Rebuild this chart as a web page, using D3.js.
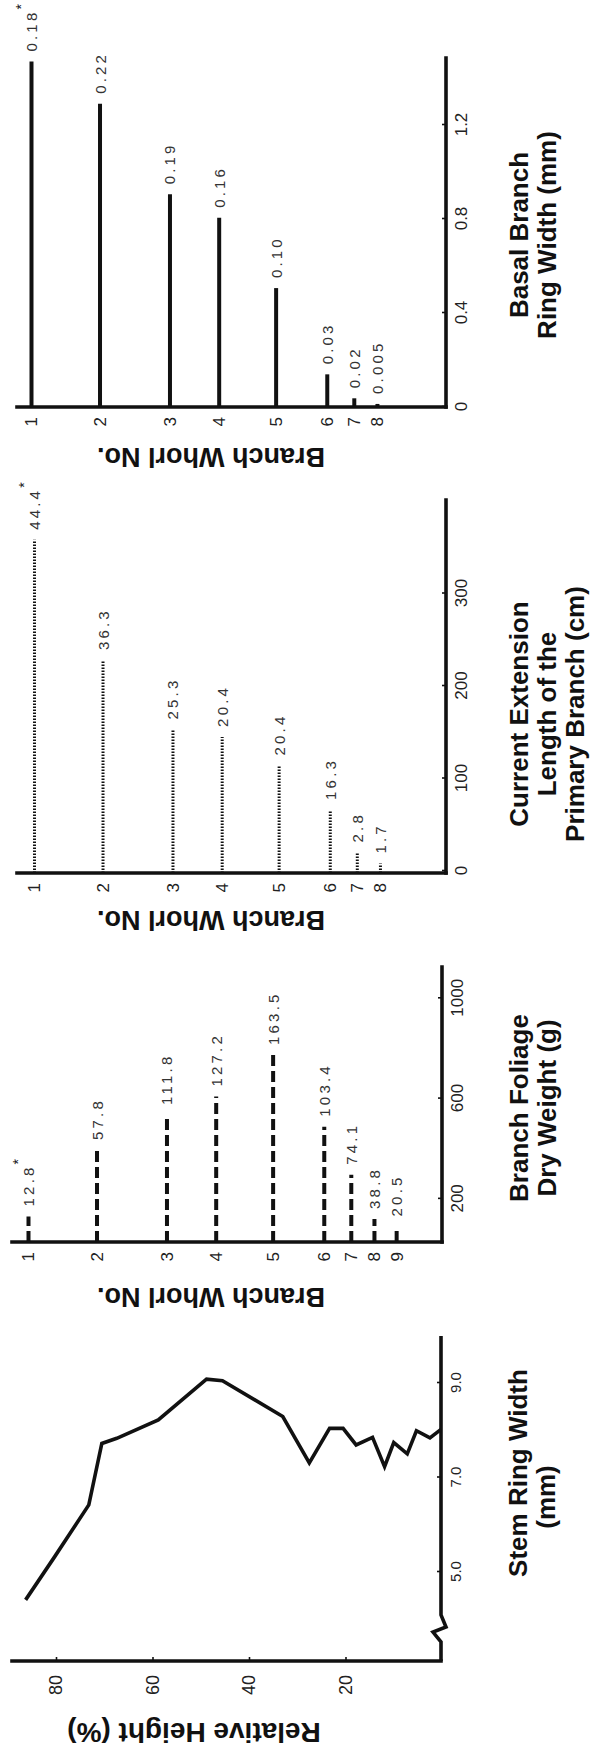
<!DOCTYPE html>
<html>
<head>
<meta charset="utf-8">
<script src="https://cdn.jsdelivr.net/npm/d3@7"></script>
<style>
  html, body { margin: 0; padding: 0; background: #fff; }
  svg { display: block; }
</style>
</head>
<body>
<svg id="fig" width="592" height="1754"></svg>
<script>
// ---- data ----------------------------------------------------------------
// Branch whorls and their relative height (%) on the stem
const whorlNo = [1, 2, 3, 4, 5, 6, 7, 8, 9];
const whorlHeight = [85.7, 71.5, 57.0, 46.8, 35.0, 24.4, 18.8, 14.0, 9.4];

// Stem ring width (mm) along relative height (%)
const stemHeight = [86.3, 80.3, 73.2, 70.5, 67.4, 58.8, 48.8, 45.5, 33.0, 27.5,
                    23.3, 20.5, 17.8, 14.4, 11.9, 10.0, 7.2, 5.3, 2.5, 0.2];
const stemRing = [4.41, 5.32, 6.42, 7.72, 7.83, 8.22, 9.08, 9.05, 8.29, 7.31,
                  8.04, 8.04, 7.69, 7.85, 7.23, 7.74, 7.50, 7.99, 7.84, 8.02];
const stemTicks = [5, 7, 9];
const heightTicks = [20, 40, 60, 80];

// Branch foliage dry weight (g) per whorl; the printed figures are a separate measure
const foliageWeight = [130, 395, 535, 608, 774, 488, 296, 120, 90];
const foliageNote = ["12.8", "57.8", "111.8", "127.2", "163.5", "103.4", "74.1", "38.8", "20.5"];
const foliageTicks = [200, 600, 1000];

// Current extension length of the primary branch (cm), whorls 1-8
const extLength = [358, 228, 153, 145, 114, 66, 20, 8];
const extNote = ["44.4", "36.3", "25.3", "20.4", "20.4", "16.3", "2.8", "1.7"];
const extTicks = [0, 100, 200, 300];

// Basal branch ring width (mm), whorls 1-8
const basalRing = [1.47, 1.29, 0.905, 0.805, 0.506, 0.139, 0.037, 0.013];
const basalNote = ["0.18", "0.22", "0.19", "0.16", "0.10", "0.03", "0.02", "0.005"];
const basalTicks = [0, 0.4, 0.8, 1.2];

// ---- drawing -------------------------------------------------------------
// The figure is laid out landscape (1754 x 592) and turned a quarter turn
// counter-clockwise onto the portrait page.
const W = 1754;
const svg = d3.select("#fig");
svg.append("rect").attr("width", 592).attr("height", 1754).attr("fill", "#fff");
const root = svg.append("g").attr("transform", `translate(0,${W}) rotate(-90)`);

const INK = "#111";
const AXIS_W = 3.6;
const BOLD = "'Liberation Sans', Arial, Helvetica, sans-serif";
const THIN = "'Liberation Sans', Arial, Helvetica, sans-serif";

function heightScale(off) {
  return d3.scaleLinear().domain([0, 80]).range([442 + off, 56 + off]);
}

function line(g, x1, y1, x2, y2, w) {
  g.append("line").attr("x1", x1).attr("y1", y1).attr("x2", x2).attr("y2", y2)
    .attr("stroke", INK).attr("stroke-width", w || AXIS_W).attr("stroke-linecap", "square");
}

function styleAxis(sel, size) {
  sel.select(".domain").remove();
  sel.selectAll(".tick line").attr("stroke", INK).attr("stroke-width", 1.6);
  sel.selectAll(".tick text").attr("fill", "#222").attr("font-family", THIN)
    .attr("font-size", size).attr("font-weight", 300);
}

function vTitle(g, text, x, y, size) {
  g.append("text").attr("transform", `translate(${x},${y}) rotate(-90)`)
    .attr("text-anchor", "middle").attr("dominant-baseline", "central")
    .attr("font-family", BOLD).attr("font-weight", "bold").attr("font-size", size || 27)
    .attr("fill", INK).text(text);
}

function titleLines(g, lines, cx, y0) {
  lines.forEach((t, i) => {
    g.append("text").attr("x", cx).attr("y", y0 + i * 28)
      .attr("text-anchor", "middle").attr("font-family", BOLD).attr("font-weight", "bold")
      .attr("font-size", 26).attr("fill", INK).text(t);
  });
}

// ---- panel 1: stem ring width profile ----
{
  const g = root.append("g");
  const hy = heightScale(0);
  const sx = d3.scaleLinear().domain([5, 9]).range([182, 371]);
  const baseX = 93, baseY = 441;

  // relative height axis
  line(g, baseX, 12, baseX, baseY);
  const ay = g.append("g").attr("transform", `translate(${baseX},0)`)
    .call(d3.axisLeft(hy).tickValues(heightTicks).tickSize(-4).tickPadding(14));
  styleAxis(ay, 18);

  // ring width axis with a break near the origin
  const brk = [[baseX, baseY], [baseX + 19, baseY], [baseX + 29, baseY - 8],
               [baseX + 34, baseY + 5], [baseX + 46, baseY], [418, baseY]];
  g.append("path").attr("d", d3.line()(brk)).attr("fill", "none")
    .attr("stroke", INK).attr("stroke-width", AXIS_W).attr("stroke-linejoin", "miter");
  const ax = g.append("g").attr("transform", `translate(0,${baseY})`)
    .call(d3.axisBottom(sx).tickValues(stemTicks).tickFormat(d3.format(".1f"))
      .tickSize(-4).tickPadding(9));
  styleAxis(ax, 15);
  ax.selectAll(".tick text").attr("font-family", "'Liberation Sans Narrow', 'Liberation Sans', sans-serif");

  const pts = stemHeight.map((h, i) => [sx(stemRing[i]), hy(h)]);
  g.append("path").attr("d", d3.line()(pts)).attr("fill", "none")
    .attr("stroke", INK).attr("stroke-width", 3.6).attr("stroke-linejoin", "miter");

  vTitle(g, "Relative Height (%)", 22, 194, 28);
  g.append("text").attr("x", 281).attr("y", 527).attr("text-anchor", "middle")
    .attr("font-family", BOLD).attr("font-weight", "bold").attr("font-size", 26)
    .attr("fill", INK).text("Stem Ring Width");
  g.append("text").attr("x", 257).attr("y", 555).attr("text-anchor", "middle")
    .attr("font-family", BOLD).attr("font-weight", "bold").attr("font-size", 26)
    .attr("fill", INK).text("(mm)");
}

// ---- whorl bar panels ----
function barPanel(cfg) {
  const g = root.append("g");
  const hy = heightScale(cfg.off);
  const n = cfg.values.length;
  const vx = d3.scaleLinear().domain(cfg.domain).range(cfg.range);

  // whorl axis
  line(g, cfg.axisX, cfg.top, cfg.axisX, cfg.baseY);
  const aw = g.append("g").attr("transform", `translate(${cfg.axisX},0)`)
    .call(d3.axisLeft(hy).tickValues(whorlHeight.slice(0, n)).tickSize(0).tickPadding(10)
      .tickFormat((d, i) => whorlNo[i]));
  styleAxis(aw, 17);

  // value axis
  line(g, cfg.axisX, cfg.baseY, cfg.axisEnd, cfg.baseY);
  const av = g.append("g").attr("transform", `translate(0,${cfg.baseY})`)
    .call(d3.axisBottom(vx).tickValues(cfg.ticks).tickSize(-4).tickPadding(9)
      .tickFormat(cfg.fmt));
  styleAxis(av, 17);

  // bars
  g.selectAll("line.bar").data(cfg.values).join("line").attr("class", "bar")
    .attr("x1", cfg.axisX).attr("x2", d => vx(d))
    .attr("y1", (d, i) => hy(whorlHeight[i])).attr("y2", (d, i) => hy(whorlHeight[i]))
    .attr("stroke", INK).attr("stroke-width", cfg.width)
    .attr("stroke-dasharray", cfg.dash);

  // printed figures
  const lab = g.selectAll("text.note").data(cfg.values).join("text").attr("class", "note")
    .attr("x", d => vx(d) + 10).attr("y", (d, i) => hy(whorlHeight[i]))
    .attr("dominant-baseline", "central")
    .attr("font-family", THIN).attr("font-size", 15).attr("letter-spacing", 3.2)
    .attr("fill", "#333").text((d, i) => cfg.notes[i]);
  lab.filter((d, i) => i === 0).append("tspan").attr("dy", -10).attr("font-size", 14)
    .attr("fill", INK).text("*");

  vTitle(g, "Branch Whorl No.", cfg.labelX, 211, 27);
  titleLines(g, cfg.title, cfg.titleX, 528);
}

barPanel({
  values: foliageWeight, notes: foliageNote, ticks: foliageTicks, fmt: d3.format("d"),
  domain: [0, 1000], range: [505, 755.7], axisX: 512, axisEnd: 787, baseY: 442, top: 12,
  off: 0, width: 4, dash: "11,5", labelX: 457,
  title: ["Branch Foliage", "Dry Weight (g)"], titleX: 646
});

barPanel({
  values: extLength, notes: extNote, ticks: extTicks, fmt: d3.format("d"),
  domain: [0, 400], range: [883, 1253], axisX: 881, axisEnd: 1254, baseY: 446, top: 17,
  off: 6, width: 3, dash: "1.6,1.4", labelX: 834,
  title: ["Current Extension", "Length of the", "Primary Branch (cm)"], titleX: 1040
});

barPanel({
  values: basalRing, notes: basalNote, ticks: basalTicks, fmt: d => d === 0 ? "0" : d3.format(".1f")(d),
  domain: [0, 1.2], range: [1347, 1629], axisX: 1347, axisEnd: 1696, baseY: 446, top: 17,
  off: 3, width: 4, dash: null, labelX: 1297,
  title: ["Basal Branch", "Ring Width (mm)"], titleX: 1519
});
</script>
</body>
</html>
